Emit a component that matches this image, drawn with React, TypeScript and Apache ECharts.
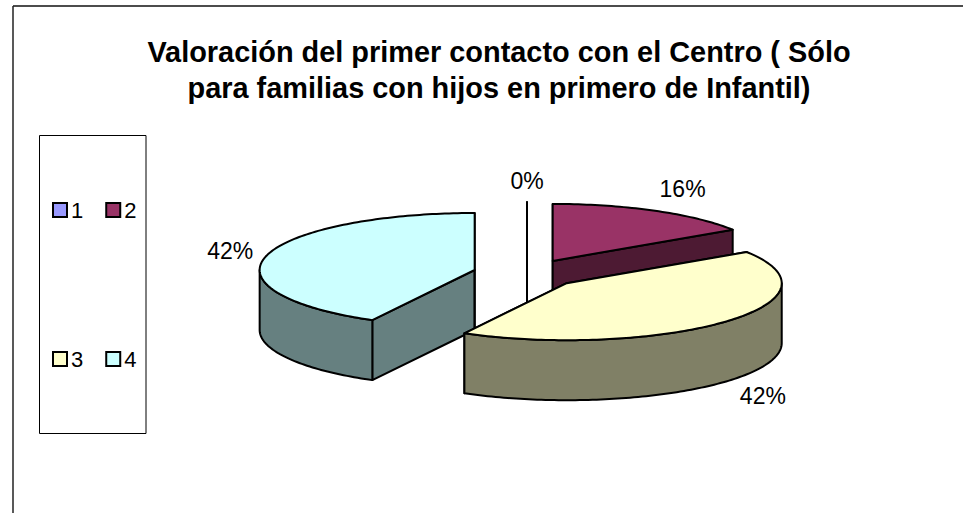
import React, { useEffect, useRef } from "react";
import * as echarts from "echarts";

const TITLE = "Valoración del primer contacto con el Centro ( Sólo\npara familias con hijos en primero de Infantil)";
const NAMES = ["1", "2", "3", "4"];
const VALUES = [0, 3, 8, 8];
const TOP_COLORS = ["#9999FF", "#993366", "#FFFFCC", "#CCFFFF"];
const SIDE_COLORS = ["#4D4D80", "#4D1A33", "#808066", "#668080"];
const DRAW_ORDER = [0, 1, 3, 2];

const FONT = '"Liberation Sans", Arial, Helvetica, sans-serif';
const CX = 527;
const CY = 273.5;
const RX = 215;
const RY = 57;
const DEPTH = 60;
const EXPLODE = 54;
const LABEL_NUDGE = [[0, 2], [3, -2], [0, -1], [14, 1]];

const TOTAL = VALUES.reduce((a, b) => a + b, 0);
const startAngle = (i: number) => (VALUES.slice(0, i).reduce((a, b) => a + b, 0) / TOTAL) * Math.PI * 2;

function renderSlice(i: number) {
  return (_params: any, api: any) => {
    const value = api.value(0);
    const a0 = startAngle(i);
    const a1 = a0 + (value / TOTAL) * Math.PI * 2;
    const mid = (a0 + a1) / 2;
    const cx = CX + EXPLODE * Math.sin(mid);
    const cy = CY - EXPLODE * (RY / RX) * Math.cos(mid);
    const pt = (a: number, dy = 0): number[] => [cx + RX * Math.sin(a), cy - RY * Math.cos(a) + dy];
    const arc = (from: number, to: number, dy = 0) => {
      const n = Math.max(1, Math.ceil(Math.abs(to - from) / 0.02));
      const out: number[][] = [];
      for (let k = 0; k <= n; k++) out.push(pt(from + ((to - from) * k) / n, dy));
      return out;
    };
    const base = { stroke: "#000", lineWidth: 2, lineJoin: "round" };
    const side = { ...base, fill: SIDE_COLORS[i] };
    const children: any[] = [];
    const radial = (a: number) => ({
      type: "polygon",
      shape: { points: [[cx, cy], pt(a), pt(a, DEPTH), [cx, cy + DEPTH]] },
      style: side,
    });
    children.push(radial(a0), radial(a1));
    const f0 = Math.max(a0, Math.PI / 2);
    const f1 = Math.min(a1, (Math.PI * 3) / 2);
    if (f1 > f0) {
      children.push({
        type: "polygon",
        shape: { points: [...arc(f0, f1), ...arc(f1, f0, DEPTH)] },
        style: side,
      });
    }
    children.push({
      type: "polygon",
      shape: { points: [[cx, cy], ...arc(a0, a1)] },
      style: { ...base, fill: TOP_COLORS[i] },
    });
    const lx = cx + RX * 1.24 * Math.sin(mid) + LABEL_NUDGE[i][0];
    const ly = cy - RY * 1.4 * Math.cos(mid) + (Math.cos(mid) < 0 ? DEPTH : 0) + LABEL_NUDGE[i][1];
    children.push({
      type: "text",
      x: lx,
      y: ly,
      style: {
        text: `${Math.round((value / TOTAL) * 100)}%`,
        font: `23px ${FONT}`,
        fill: "#000",
        align: "center",
        verticalAlign: "middle",
      },
    });
    return { type: "group", children };
  };
}

const legendCommon = {
  orient: "horizontal",
  icon: "rect",
  itemWidth: 14,
  itemHeight: 14,
  itemGap: 22,
  selectedMode: false,
  padding: 0,
  itemStyle: { borderColor: "#000", borderWidth: 2 },
  textStyle: { fontFamily: FONT, fontSize: 22, color: "#000", padding: [0, 0, 0, -1] },
};

export default function App() {
  const ref = useRef<HTMLDivElement>(null);
  useEffect(() => {
    const chart = echarts.init(ref.current!, null, { renderer: "svg" });
    chart.setOption({
      animation: false,
      backgroundColor: "#fff",
      title: {
        text: TITLE,
        left: 494,
        top: 29,
        textAlign: "center",
        textStyle: {
          fontFamily: FONT,
          fontSize: 28.9,
          fontWeight: "bold",
          color: "#000",
          lineHeight: 36,
        },
      },
      legend: [
        { ...legendCommon, data: [NAMES[0], NAMES[1]], left: 52, top: 199 },
        { ...legendCommon, data: [NAMES[2], NAMES[3]], left: 52, top: 348 },
      ],
      graphic: [
        { type: "line", silent: true, shape: { x1: 13, y1: 6, x2: 963, y2: 6 }, style: { stroke: "#111", lineWidth: 1.5 } },
        { type: "line", silent: true, shape: { x1: 13, y1: 6, x2: 13, y2: 513 }, style: { stroke: "#222", lineWidth: 1.5 } },
        { type: "rect", silent: true, shape: { x: 39.5, y: 135.5, width: 106.5, height: 298 }, style: { fill: "none", stroke: "#000", lineWidth: 1 } },
      ],
      series: DRAW_ORDER.map((i) => ({
        type: "custom",
        name: NAMES[i],
        coordinateSystem: "none",
        itemStyle: { color: TOP_COLORS[i] },
        data: [[VALUES[i]]],
        renderItem: renderSlice(i),
      })),
    });
    return () => chart.dispose();
  }, []);
  return <div ref={ref} style={{ position: "absolute", left: 0, top: 0, width: 963, height: 513 }} />;
}
